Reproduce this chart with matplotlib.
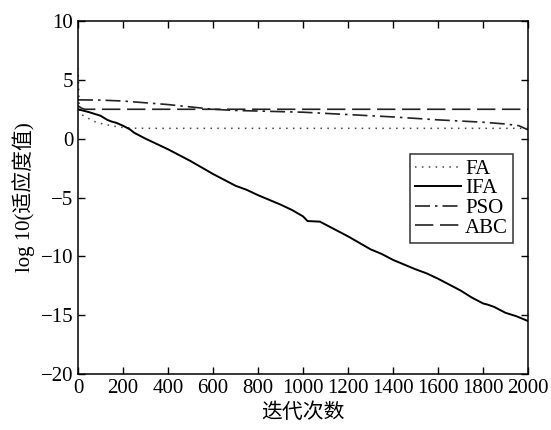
import matplotlib
matplotlib.use("Agg")
import matplotlib.pyplot as plt
import numpy as np

plt.rcParams['font.family'] = ['Liberation Serif', 'Noto Sans CJK SC']

# data (iteration, log10 fitness)
fa_iter = [0, 5, 10, 30, 67, 100, 156, 200, 261, 2000]
fa_val = [6.0, 3.0, 2.1, 1.9, 1.5, 1.3, 1.07, 0.95, 0.88, 0.88]

ifa_iter = [0, 50, 100, 130, 150, 170, 200, 230, 250, 300, 350, 400, 450, 500,
            550, 600, 650, 700, 750, 800, 850, 900, 950, 1000, 1020, 1075, 1100,
            1150, 1200, 1250, 1300, 1350, 1400, 1450, 1500, 1550, 1600, 1650,
            1700, 1750, 1800, 1820, 1850, 1880, 1900, 1950, 2000]
ifa_val = [2.5, 2.25, 1.95, 1.6, 1.45, 1.35, 1.1, 0.8, 0.5, 0.0, -0.45, -0.9,
           -1.4, -1.9, -2.45, -3.0, -3.5, -4.0, -4.35, -4.8, -5.2, -5.6, -6.05,
           -6.6, -7.0, -7.05, -7.3, -7.8, -8.3, -8.85, -9.4, -9.8, -10.3, -10.7,
           -11.1, -11.45, -11.9, -12.4, -12.9, -13.5, -14.0, -14.1, -14.3, -14.6,
           -14.8, -15.1, -15.5]

pso_iter = [0, 100, 200, 300, 400, 500, 600, 700, 800, 1000, 1200, 1400, 1600,
            1800, 1900, 1960, 2000]
pso_val = [3.3, 3.28, 3.2, 3.05, 2.9, 2.7, 2.5, 2.4, 2.35, 2.25, 2.05, 1.85, 1.6,
           1.4, 1.25, 1.1, 0.75]

abc_iter = [0, 15, 30, 2000]
abc_val = [2.8, 2.6, 2.5, 2.5]

labels = ["FA", "IFA", "PSO", "ABC"]

fig = plt.figure(figsize=(5.51, 4.30), dpi=100)
ax = fig.add_axes([0.1416, 0.1302, 0.8167, 0.8209])

ax.plot(fa_iter, fa_val, color="#444444", lw=1.1, ls=(0, (1, 3.5)), label=labels[0])
ax.plot(ifa_iter, ifa_val, color="black", lw=1.4, ls="-", label=labels[1])
ax.plot(pso_iter, pso_val, color="#222222", lw=1.2, ls=(0, (9, 3, 1.5, 3)), label=labels[2])
ax.plot(abc_iter, abc_val, color="#222222", lw=1.2, ls=(0, (11, 4)), label=labels[3])

ax.set_xlim(0, 2000)
ax.set_ylim(-20, 10)
ax.set_xticks(np.arange(0, 2001, 200))
ax.set_yticks(np.arange(-20, 11, 5))
ax.tick_params(direction="in", top=True, right=True, labelsize=15, length=5, width=1)
for s in ax.spines.values():
    s.set_linewidth(1.1)

ax.set_xlabel("迭代次数", fontsize=15, labelpad=4)
ax.set_ylabel("log 10(适应度值)", fontsize=15, labelpad=4)

leg = ax.legend(loc="upper right", bbox_to_anchor=(0.967, 0.623), borderaxespad=0,
                fontsize=15, frameon=True, fancybox=False, handlelength=2.2,
                handletextpad=0.2, labelspacing=0.0, borderpad=0.25)
leg.get_frame().set_edgecolor("black")
leg.get_frame().set_linewidth(1.1)

fig.savefig("out.png", dpi=100)
